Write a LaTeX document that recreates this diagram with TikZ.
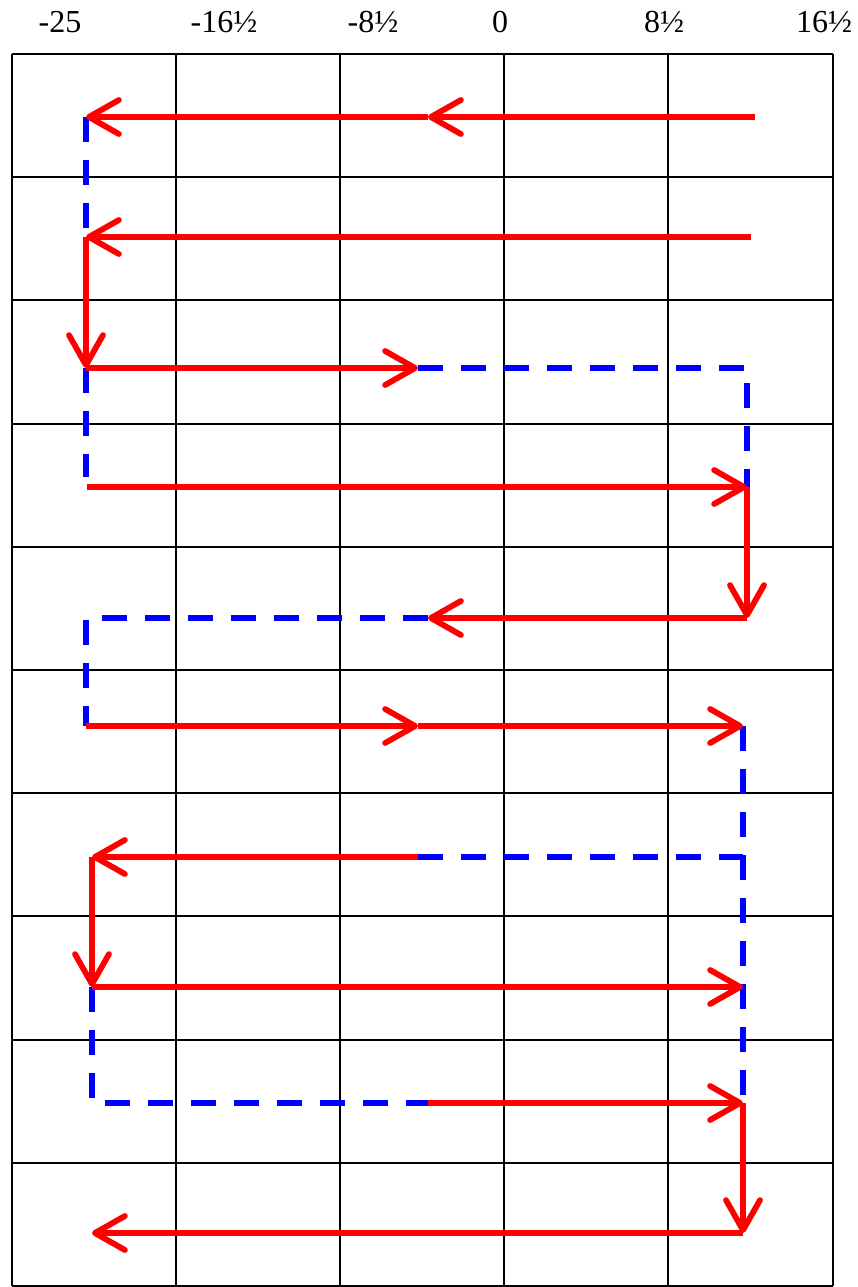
\documentclass[tikz,border=0pt]{standalone}
\usepackage{fontspec}
\setmainfont{Liberation Serif}
\usetikzlibrary{arrows.meta}

\tikzset{
	redarrow/.style={draw=red, line width=2.9pt, -{Straight Barb[length=15pt,width=17pt,round]}},
	bluedash/.style={draw=blue, line width=2.8pt, dash pattern=on 12.5pt off 9pt},
	gridline/.style={draw=black, line width=0.9pt},
	toplabel/.style={font=\fontsize{16pt}{18pt}\selectfont, inner sep=0pt}
}

\begin{document}
\begin{tikzpicture}[x=0.5pt,y=-0.5pt]
				\useasboundingbox (0,0) rectangle (858,1287);
				\foreach \x in {12,176,340,504,668,833} \draw[gridline] (\x,54) -- (\x,1286);
				\foreach \y in {54,177,300,424,547,670,793,916,1040,1163,1286} \draw[gridline] (12,\y) -- (833,\y);
				\node[toplabel] (t1) at (60,22) {-25};
				\node[toplabel] (t2) at (224,22) {-16½};
				\node[toplabel] (t3) at (373,22) {-8½};
				\node[toplabel] (t4) at (500,22) {0};
				\node[toplabel] (t5) at (664,22) {8½};
				\node[toplabel] (t6) at (824,22) {16½};
				\coordinate (r1) at (755,117); \coordinate (m1) at (428,117); \coordinate (l1) at (86,117);
				\coordinate (r2) at (751,237); \coordinate (l2) at (86,237);
				\coordinate (l3) at (86,368); \coordinate (m3) at (418,368); \coordinate (r3) at (747,368);
				\coordinate (l4) at (87,487); \coordinate (e4) at (86,477); \coordinate (r4) at (747,487);
				\coordinate (r5) at (747,618); \coordinate (m5) at (428,618); \coordinate (l5) at (86,618);
				\coordinate (l6) at (86,726); \coordinate (m6) at (418,726); \coordinate (r6) at (743,726);
				\coordinate (m7) at (418,857); \coordinate (l7) at (92,857); \coordinate (r7) at (743,857);
				\coordinate (l8) at (92,987); \coordinate (r8) at (743,987);
				\coordinate (l9) at (92,1103); \coordinate (m9) at (428,1103); \coordinate (r9) at (743,1103);
				\coordinate (b9) at (743,1115);
				\coordinate (r10) at (743,1233); \coordinate (l10) at (92,1233);
				\draw[bluedash] (l1) -- (l2);
				\draw[bluedash] (m3) -- (r3) -- (r4);
				\draw[bluedash] (l3) -- (e4);
				\draw[bluedash] (m5) -- (l5) -- (l6);
				\draw[bluedash] (r6) -- (b9);
				\draw[bluedash] (m7) -- (r7);
				\draw[bluedash] (l8) -- (l9) -- (m9);
				\draw[redarrow] (r1) -- (m1);
				\draw[redarrow] (m1) -- (l1);
				\draw[redarrow] (r2) -- (l2);
				\draw[redarrow] (l2) -- (l3);
				\draw[redarrow] (l3) -- (m3);
				\draw[redarrow] (l4) -- (r4);
				\draw[redarrow] (r4) -- (r5);
				\draw[redarrow] (r5) -- (m5);
				\draw[redarrow] (l6) -- (m6);
				\draw[redarrow] (m6) -- (r6);
				\draw[redarrow] (m7) -- (l7);
				\draw[redarrow] (l7) -- (l8);
				\draw[redarrow] (l8) -- (r8);
				\draw[redarrow] (m9) -- (r9);
				\draw[redarrow] (r9) -- (r10);
				\draw[redarrow] (r10) -- (l10);
			\end{tikzpicture}
\end{document}
